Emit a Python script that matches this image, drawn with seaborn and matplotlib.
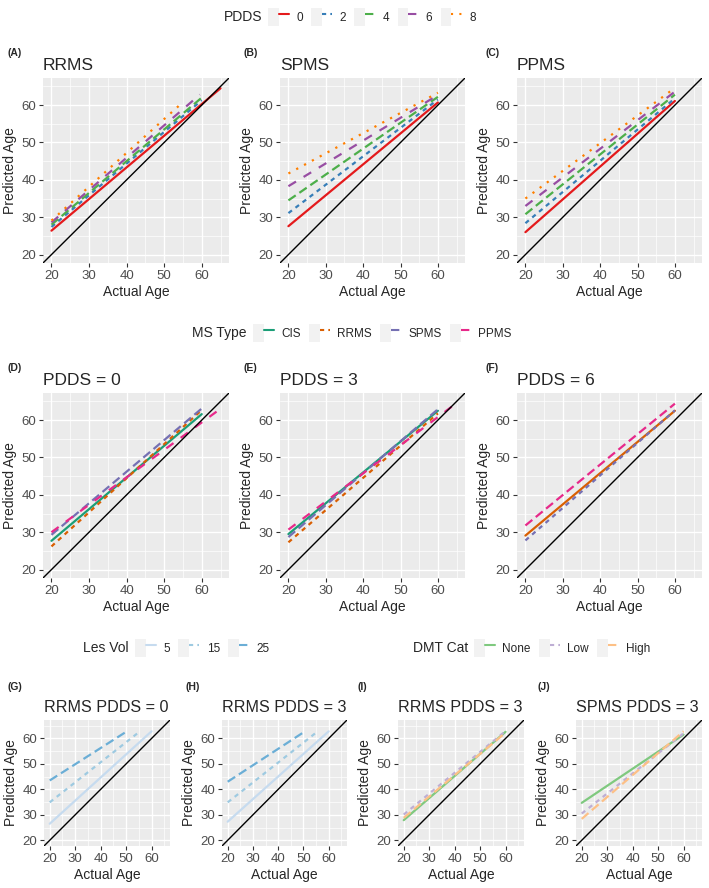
import pandas as pd
import matplotlib.pyplot as plt
import seaborn as sns
from matplotlib.lines import Line2D
from matplotlib.patches import Rectangle
from matplotlib.legend_handler import HandlerTuple

# ---- data: every line starts at age 20 ----
pdds_levels = ["0", "2", "4", "6", "8"]
pdds_colors = ["#E41A1C", "#377EB8", "#4DAF4A", "#984EA3", "#FF7F00"]
pdds_dashes = ["", (2, 2), (4, 2), (4, 4), (1, 3)]

rrms_end = [65, 60, 60, 59.5, 55]
rrms_lo = [26.4, 27.4, 28.0, 28.6, 29.1]
rrms_hi = [64.5, 61.3, 62.0, 62.8, 60.8]

spms_end = [60, 60, 60, 60, 60]
spms_lo = [27.6, 31.1, 34.5, 38.3, 41.7]
spms_hi = [60.7, 61.5, 62.2, 62.7, 63.3]

ppms_end = [60, 60, 60, 60, 60]
ppms_lo = [26.0, 28.4, 30.8, 33.0, 35.0]
ppms_hi = [61.1, 61.8, 62.8, 63.6, 64.6]

ms_types = ["CIS", "RRMS", "SPMS", "PPMS"]
ms_colors = ["#1B9E77", "#D95F02", "#7570B3", "#E7298A"]
ms_dashes = ["", (2, 2), (4, 2), (4, 4)]

p0_end = [60, 60, 60, 64.8]
p0_lo = [27.7, 26.2, 29.3, 30.0]
p0_hi = [61.6, 62.7, 63.1, 62.9]

p3_end = [60, 60, 60, 63.7]
p3_lo = [29.5, 27.3, 28.7, 30.7]
p3_hi = [62.5, 61.8, 62.9, 63.6]

# PDDS = 6 has no CIS line
p6_types = ["RRMS", "SPMS", "PPMS"]
p6_colors = ["#D95F02", "#7570B3", "#E7298A"]
p6_dashes = ["", (2, 2), (4, 2)]
p6_end = [60, 60, 60]
p6_lo = [29.1, 27.8, 31.8]
p6_hi = [62.5, 62.6, 64.4]

lesvol_levels = ["5", "15", "25"]
lesvol_colors = ["#C6DBEF", "#9ECAE1", "#6BAED6"]
lesvol_dashes = ["", (2, 2), (4, 2)]

g_end = [60, 55.2, 50]
g_lo = [26.5, 34.9, 43.5]
g_hi = [62.8, 62.6, 62.6]

h_end = [60, 54.9, 49.7]
h_lo = [27.3, 34.9, 43.0]
h_hi = [62.8, 62.2, 62.2]

dmt_levels = ["None", "Low", "High"]
dmt_colors = ["#7FC97F", "#BEAED4", "#FDC086"]
dmt_dashes = ["", (2, 2), (4, 2)]

i_end = [60, 60, 60]
i_lo = [27.9, 30.1, 28.8]
i_hi = [62.6, 62.9, 62.3]

j_end = [60, 60, 60]
j_lo = [34.7, 30.5, 28.4]
j_hi = [61.5, 62.0, 62.8]

# ---- style ----
sns.set_theme(style="darkgrid", rc={
    "axes.facecolor": "#EBEBEB",
    "grid.color": "white",
    "xtick.major.size": 3,
    "ytick.major.size": 3,
    "xtick.major.width": 0.8,
    "ytick.major.width": 0.8,
    "xtick.color": "#333333",
    "ytick.color": "#333333",
    "xtick.bottom": True,
    "ytick.left": True,
})
plt.rcParams["font.family"] = ["Liberation Sans", "DejaVu Sans"]

fig = plt.figure(figsize=(7.09, 8.88), dpi=100)


def panel(rect, groups, colors, dashes, end_age, lo, hi, title, tag, tag_xy,
          title_size=12.5):
    ax = fig.add_axes(rect)
    df = pd.DataFrame({
        "age": [20] * len(groups) + list(end_age),
        "pred": list(lo) + list(hi),
        "grp": list(groups) + list(groups),
    })
    sns.lineplot(data=df, x="age", y="pred", hue="grp", style="grp",
                 hue_order=groups, style_order=groups,
                 palette=dict(zip(groups, colors)),
                 dashes=dict(zip(groups, dashes)),
                 linewidth=1.6, legend=False, ax=ax)
    ax.axline((20, 20), slope=1, color="black", lw=1)
    ax.set_xlim(17.75, 67.25)
    ax.set_ylim(17.75, 67.25)
    ticks = [20, 30, 40, 50, 60]
    ax.set_xticks(ticks)
    ax.set_yticks(ticks)
    ax.set_xticks([25, 35, 45, 55, 65], minor=True)
    ax.set_yticks([25, 35, 45, 55, 65], minor=True)
    ax.grid(which="major", lw=1.0)
    ax.grid(which="minor", lw=0.5)
    ax.tick_params(which="minor", length=0)
    ax.tick_params(which="major", labelsize=9.5, labelcolor="#4D4D4D", pad=2)
    for s in ax.spines.values():
        s.set_visible(False)
    ax.set_xlabel("Actual Age", fontsize=10, labelpad=2)
    ax.set_ylabel("Predicted Age", fontsize=10, labelpad=3)
    ax.set_title(title, loc="left", fontsize=title_size, pad=6)
    fig.text(tag_xy[0], tag_xy[1], tag, fontsize=7.5, fontweight="bold",
             ha="left", va="center")
    return ax


def add_legend(title, labels, colors, dashes, x_title, x_leg, y):
    fig.text(x_title, y, title, ha="right", va="center", fontsize=10)
    handles = []
    for c, d in zip(colors, dashes):
        bg = Rectangle((0, 0), 1, 1, facecolor="#F2F2F2", edgecolor="none")
        ln = Line2D([], [], color=c, lw=1.5, linestyle=(0, d) if d else "-")
        handles.append((bg, ln))
    fig.legend(handles, labels, loc="center left", bbox_to_anchor=(x_leg, y),
               ncol=len(labels), frameon=False, fontsize=8.5,
               handler_map={tuple: HandlerTuple(ndivide=None, pad=0)},
               handlelength=1.8, handleheight=2.0, handletextpad=0.6,
               columnspacing=0.7, borderpad=0, borderaxespad=0)


W, H = 709, 888


def rect(x0, y0, x1, y1):
    return [x0 / W, 1 - y1 / H, (x1 - x0) / W, (y1 - y0) / H]


# row 1: by MS type, lines per PDDS
panel(rect(43, 78, 229, 263), pdds_levels, pdds_colors, pdds_dashes,
      rrms_end, rrms_lo, rrms_hi, "RRMS", "(A)", (7 / W, 1 - 53 / H))
panel(rect(280, 78, 465, 263), pdds_levels, pdds_colors, pdds_dashes,
      spms_end, spms_lo, spms_hi, "SPMS", "(B)", (243 / W, 1 - 53 / H))
panel(rect(517, 78, 702, 263), pdds_levels, pdds_colors, pdds_dashes,
      ppms_end, ppms_lo, ppms_hi, "PPMS", "(C)", (485 / W, 1 - 53 / H))

# row 2: by PDDS, lines per MS type
panel(rect(43, 393, 229, 578), ms_types, ms_colors, ms_dashes,
      p0_end, p0_lo, p0_hi, "PDDS = 0", "(D)", (7 / W, 1 - 368 / H))
panel(rect(280, 393, 465, 578), ms_types, ms_colors, ms_dashes,
      p3_end, p3_lo, p3_hi, "PDDS = 3", "(E)", (243 / W, 1 - 368 / H))
panel(rect(517, 393, 702, 578), p6_types, p6_colors, p6_dashes,
      p6_end, p6_lo, p6_hi, "PDDS = 6", "(F)", (485 / W, 1 - 368 / H))

# row 3: lesion volume and DMT category
panel(rect(44, 720, 170, 846), lesvol_levels, lesvol_colors, lesvol_dashes,
      g_end, g_lo, g_hi, "RRMS PDDS = 0", "(G)", (7 / W, 1 - 687 / H), 11.6)
panel(rect(222, 720, 347, 846), lesvol_levels, lesvol_colors, lesvol_dashes,
      h_end, h_lo, h_hi, "RRMS PDDS = 3", "(H)", (185 / W, 1 - 687 / H), 11.6)
panel(rect(398, 720, 524, 846), dmt_levels, dmt_colors, dmt_dashes,
      i_end, i_lo, i_hi, "RRMS PDDS = 3", "(I)", (358 / W, 1 - 687 / H), 11.6)
panel(rect(576, 720, 702, 846), dmt_levels, dmt_colors, dmt_dashes,
      j_end, j_lo, j_hi, "SPMS PDDS = 3", "(J)", (537 / W, 1 - 687 / H), 11.6)

# legends
add_legend("PDDS", pdds_levels, pdds_colors, pdds_dashes,
           262 / W, 268 / W, 1 - 17 / H)
add_legend("MS Type", ms_types, ms_colors, ms_dashes,
           247 / W, 253 / W, 1 - 333 / H)
add_legend("Les Vol", lesvol_levels, lesvol_colors, lesvol_dashes,
           129 / W, 135 / W, 1 - 648 / H)
add_legend("DMT Cat", dmt_levels, dmt_colors, dmt_dashes,
           468 / W, 474 / W, 1 - 648 / H)

fig.savefig("out.png", dpi=100)
